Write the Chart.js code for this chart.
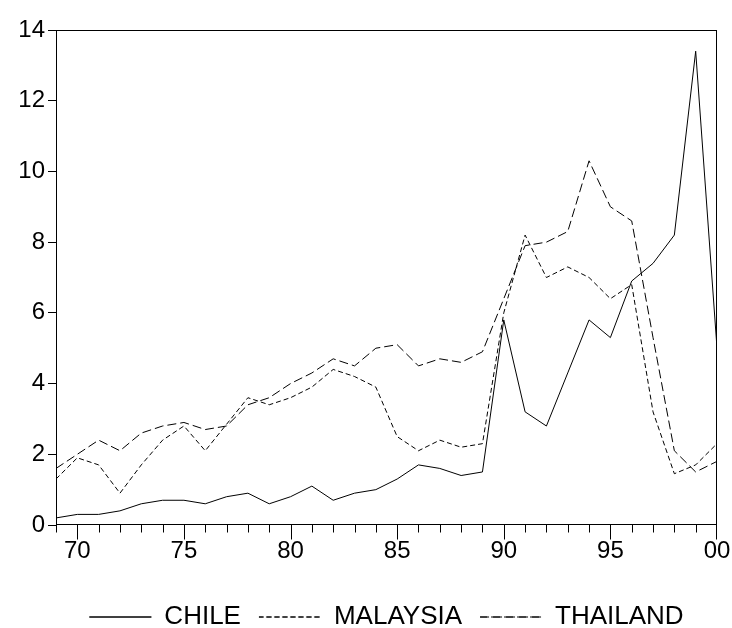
<!DOCTYPE html>
<html>
<head>
<meta charset="utf-8">
<script src="https://cdn.jsdelivr.net/npm/chart.js@4"></script>
<style>
  html, body { margin: 0; padding: 0; background: #fff; }
  canvas { display: block; }
</style>
</head>
<body>
<canvas id="c" width="732" height="628"></canvas>
<script>
// ---- data ----
const years = [1969,1970,1971,1972,1973,1974,1975,1976,1977,1978,1979,1980,1981,1982,1983,1984,
               1985,1986,1987,1988,1989,1990,1991,1992,1993,1994,1995,1996,1997,1998,1999,2000];
const chile = [0.2,0.3,0.3,0.4,0.6,0.7,0.7,0.6,0.8,0.9,0.6,0.8,1.1,0.7,0.9,1.0,
               1.3,1.7,1.6,1.4,1.5,5.8,3.2,2.8,4.3,5.8,5.3,6.9,7.4,8.2,13.4,5.0];
const malaysia = [1.3,1.9,1.7,0.9,1.7,2.4,2.8,2.1,2.85,3.6,3.4,3.6,3.9,4.4,4.2,3.9,
                  2.5,2.1,2.4,2.2,2.3,6.0,8.2,7.0,7.3,7.0,6.4,6.8,3.2,1.45,1.7,2.3];
const thailand = [1.6,2.0,2.4,2.1,2.6,2.8,2.9,2.7,2.8,3.4,3.6,4.0,4.3,4.7,4.5,5.0,
                  5.1,4.5,4.7,4.6,4.9,6.4,7.9,8.0,8.3,10.3,9.0,8.6,5.3,2.1,1.5,1.8];
const seriesNames = ['CHILE', 'MALAYSIA', 'THAILAND'];
const xTickYears = [1970,1975,1980,1985,1990,1995,2000];
const xTickLabels = ['70','75','80','85','90','95','00'];
const yTicks = [0,2,4,6,8,10,12,14];

const FONT = "'Liberation Sans', Arial, Helvetica, sans-serif";

function pts(vals) { return years.map((yr, i) => ({ x: yr, y: vals[i] })); }

// frame + yearly tick marks on the x axis
const framePlugin = {
  id: 'frame',
  afterDraw(chart) {
    const ctx = chart.ctx, a = chart.chartArea, xs = chart.scales.x;
    ctx.save();
    ctx.strokeStyle = '#000';
    ctx.lineWidth = 1;
    ctx.setLineDash([]);
    const L = Math.round(a.left) + 0.5, R = Math.round(a.right) - 0.5;
    const T = Math.round(a.top) + 0.5, B = Math.round(a.bottom) - 0.5;
    ctx.strokeRect(L, T, R - L, B - T);
    ctx.beginPath();
    for (const yr of years) {
      let px = Math.round(xs.getPixelForValue(yr)) + 0.5;
      if (px > R) px = R;
      const len = (yr % 5 === 0) ? 15 : 8;
      ctx.moveTo(px, B);
      ctx.lineTo(px, B + len);
    }
    ctx.stroke();
    ctx.restore();
  }
};

const common = { borderColor: '#000', backgroundColor: 'transparent', borderWidth: 1,
                 pointRadius: 0, tension: 0, fill: false };

new Chart(document.getElementById('c'), {
  type: 'line',
  data: {
    datasets: [
      Object.assign({ label: seriesNames[0], data: pts(chile), borderDash: [] }, common),
      Object.assign({ label: seriesNames[1], data: pts(malaysia), borderDash: [5, 3] }, common),
      Object.assign({ label: seriesNames[2], data: pts(thailand), borderDash: [9, 4] }, common)
    ]
  },
  options: {
    responsive: false,
    animation: false,
    devicePixelRatio: 1,
    layout: { padding: { left: 0, right: 15, top: 30, bottom: -12 } },
    plugins: {
      tooltip: { enabled: false },
      legend: {
        position: 'bottom',
        fullSize: false,
        labels: {
          color: '#000',
          font: { family: FONT, size: 26 },
          boxWidth: 62,
          boxHeight: 0,
          padding: 18
        }
      }
    },
    scales: {
      x: {
        type: 'linear',
        min: years[0],
        max: years[years.length - 1],
        afterBuildTicks(scale) { scale.ticks = xTickYears.map(v => ({ value: v })); },
        afterFit(scale) { scale.height = 61; scale.paddingLeft = 0; scale.paddingRight = 0; },
        grid: { display: false, drawTicks: false },
        border: { display: false },
        ticks: {
          autoSkip: false, maxRotation: 0, padding: 12, color: '#000',
          font: { family: FONT, size: 24 },
          callback(v) { const i = xTickYears.indexOf(v); return i >= 0 ? xTickLabels[i] : ''; }
        }
      },
      y: {
        min: 0, max: 14,
        afterBuildTicks(scale) { scale.ticks = yTicks.map(v => ({ value: v })); },
        afterFit(scale) { scale.width = 56; scale.paddingTop = 0; scale.paddingBottom = 0; },
        grid: { drawOnChartArea: false, drawTicks: true, tickLength: 8, color: '#000', tickColor: '#000' },
        border: { display: true, color: '#000', width: 1 },
        ticks: { padding: 3, color: '#000', font: { family: FONT, size: 24 } }
      }
    }
  },
  plugins: [framePlugin]
});
</script>
</body>
</html>
